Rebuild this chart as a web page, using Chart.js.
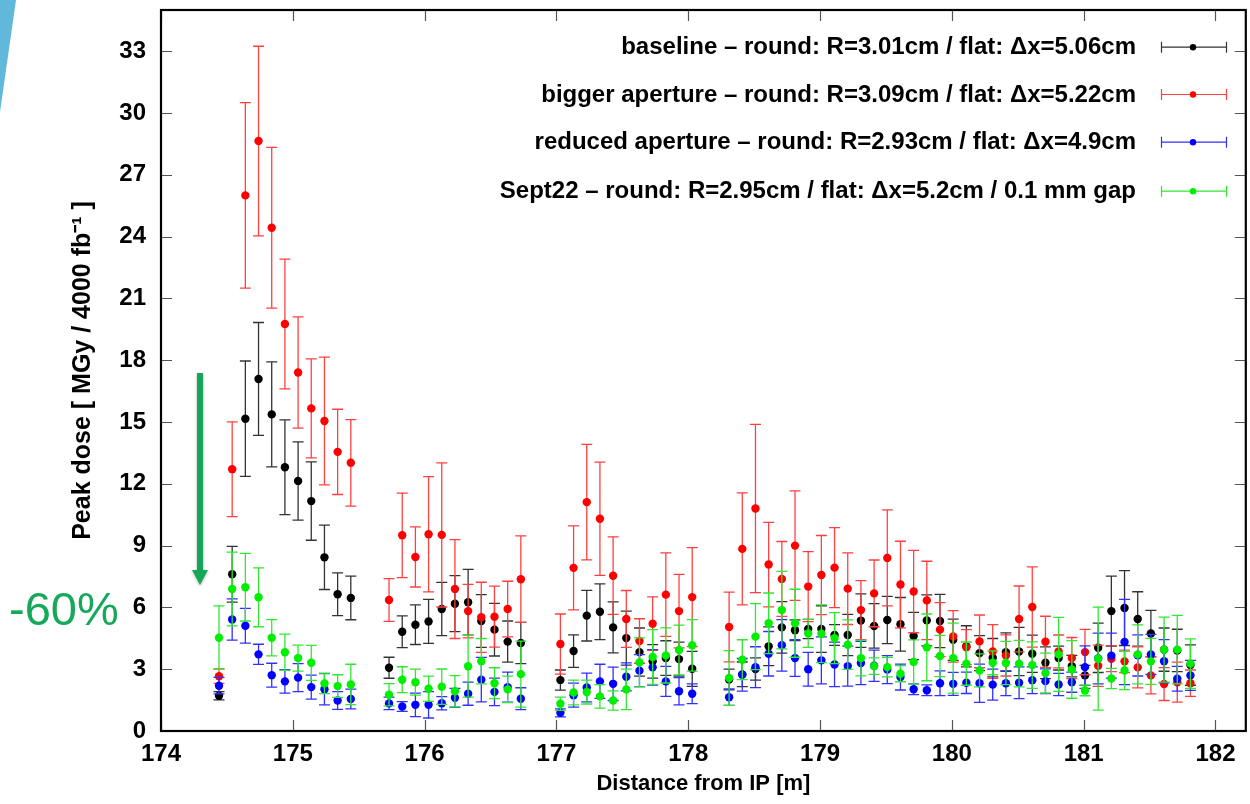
<!DOCTYPE html>
<html>
<head>
<meta charset="utf-8">
<script src="https://cdn.jsdelivr.net/npm/chart.js@4.4.0/dist/chart.umd.min.js"></script>
<style>
  html, body { margin: 0; padding: 0; background: #fff; }
  #wrap { position: relative; width: 1250px; height: 804px; overflow: hidden; }
  #chart { position: absolute; left: 0; top: 0; }
  #note { position: absolute; left: 9px; top: 581px; font: 47px "Liberation Sans", Arial, sans-serif; color: #16a85b; }
</style>
</head>
<body>
<div id="wrap">
  <canvas id="chart" width="1250" height="804"></canvas>
  <div id="note">-60%</div>
</div>
<script>
// tick labels
const xTicks = [174, 175, 176, 177, 178, 179, 180, 181, 182];
const yTicks = [0, 3, 6, 9, 12, 15, 18, 21, 24, 27, 30, 33];

// distance from IP [m] for every sample
const positions = [
    174.44, 174.54, 174.64, 174.74, 174.84, 174.94, 175.04, 175.14, 175.24, 175.34, 175.44,
    175.73, 175.83, 175.93, 176.03, 176.13, 176.23, 176.33, 176.43, 176.53, 176.63, 176.73,
    177.03, 177.13, 177.23, 177.33, 177.43, 177.53, 177.63, 177.73, 177.83, 177.93, 178.03,
    178.31, 178.41, 178.51, 178.61, 178.71, 178.81, 178.91, 179.01, 179.11, 179.21, 179.31, 179.41,
    179.51, 179.61, 179.71, 179.81, 179.91, 180.01, 180.11, 180.21, 180.31, 180.41, 180.51, 180.61,
    180.71, 180.81, 180.91, 181.01, 181.11, 181.21, 181.31, 181.41, 181.51, 181.61, 181.71, 181.81
];

const labels = [
    'baseline \u2013 round: R=3.01cm / flat: \u0394x=5.06cm',
    'bigger aperture \u2013 round: R=3.09cm / flat: \u0394x=5.22cm',
    'reduced aperture \u2013 round: R=2.93cm / flat: \u0394x=4.9cm',
    'Sept22 \u2013 round: R=2.95cm / flat: \u0394x=5.2cm / 0.1 mm gap'
];

const baseline = [
    1.71, 7.61, 15.16, 17.09, 15.37, 12.80, 12.14, 11.16, 8.43, 6.64, 6.46,
    3.07, 4.82, 5.16, 5.32, 5.92, 6.18, 6.25, 5.34, 4.92, 4.34, 4.27,
    2.47, 3.88, 5.60, 5.79, 5.03, 4.51, 3.83, 3.38, 3.54, 3.49, 3.02,
    2.50, 2.75, 3.01, 4.11, 5.03, 4.89, 4.95, 4.95, 4.66, 4.66, 5.36, 5.10,
    5.39, 5.18, 4.61, 5.37, 5.34, 4.43, 4.11, 3.78, 3.56, 3.83, 3.86, 3.75,
    3.31, 3.54, 3.15, 2.70, 4.04, 5.82, 5.97, 5.44, 4.73, 3.95, 3.91, 3.20
];
const baselineErr = [
    0.20, 1.35, 2.80, 2.74, 2.55, 2.30, 1.90, 1.90, 1.56, 1.04, 1.06,
    0.51, 0.77, 0.96, 1.07, 1.29, 1.36, 1.60, 1.28, 1.28, 1.00, 1.00,
    0.49, 0.79, 1.23, 1.35, 1.24, 1.31, 1.17, 0.81, 0.84, 0.82, 0.85,
    0.50, 0.60, 0.54, 0.94, 1.25, 0.50, 0.47, 1.13, 0.50, 1.00, 1.30, 1.08,
    1.15, 1.30, 1.15, 1.24, 1.29, 1.00, 1.00, 0.85, 0.93, 0.93, 1.17, 0.90,
    0.77, 0.58, 0.52, 0.49, 1.20, 1.70, 1.82, 1.32, 1.13, 1.05, 1.03, 0.98
];

const bigger = [
    2.66, 12.71, 26.00, 28.64, 24.43, 19.76, 17.40, 15.66, 15.05, 13.55, 13.02,
    6.36, 9.50, 8.45, 9.55, 9.52, 6.89, 5.82, 5.52, 5.55, 5.92, 7.37,
    4.22, 7.92, 11.11, 10.30, 7.54, 5.44, 4.37, 5.21, 6.62, 5.82, 6.50,
    5.05, 8.84, 10.80, 8.08, 7.38, 9.00, 7.01, 7.57, 7.93, 6.91, 5.87, 6.68,
    8.40, 7.11, 6.77, 6.34, 4.92, 4.59, 4.07, 4.35, 3.86, 3.67, 5.44, 6.02,
    4.33, 3.86, 3.54, 3.83, 3.17, 3.51, 3.38, 3.09, 2.70, 2.28, 2.37, 2.32
];
const biggerErr = [
    0.35, 2.30, 4.50, 4.60, 3.90, 3.15, 2.70, 2.40, 3.10, 2.07, 2.10,
    1.04, 2.05, 1.46, 2.80, 3.50, 2.40, 1.30, 1.70, 1.48, 1.35, 2.10,
    1.46, 2.04, 2.80, 2.75, 1.88, 1.38, 1.08, 1.30, 2.03, 1.78, 2.40,
    1.69, 2.72, 4.08, 2.05, 1.82, 2.66, 1.70, 1.92, 1.94, 1.74, 1.43, 1.62,
    2.33, 2.10, 2.00, 1.90, 1.31, 1.25, 0.85, 1.28, 1.30, 1.00, 1.60, 1.95,
    1.24, 0.80, 1.00, 1.10, 1.00, 0.63, 0.55, 1.00, 0.90, 0.80, 0.97, 0.64
];

const reduced = [
    2.20, 5.41, 5.11, 3.72, 2.71, 2.41, 2.59, 2.13, 2.03, 1.48, 1.55,
    1.34, 1.19, 1.27, 1.27, 1.35, 1.61, 1.81, 2.49, 1.90, 2.13, 1.57,
    0.88, 1.74, 2.11, 2.41, 2.29, 2.63, 2.93, 3.09, 2.41, 1.93, 1.81,
    1.64, 2.73, 3.10, 3.75, 4.16, 3.54, 3.00, 3.43, 3.23, 3.15, 3.30, 3.17,
    2.98, 2.62, 2.03, 1.98, 2.32, 2.29, 2.34, 2.32, 2.25, 2.32, 2.34, 2.46,
    2.42, 2.26, 2.37, 3.10, 3.52, 3.66, 4.32, 3.67, 3.72, 3.39, 2.54, 2.70
];
const reducedErr = [
    0.40, 1.00, 0.84, 0.49, 0.58, 0.57, 0.68, 0.58, 0.76, 0.43, 0.48,
    0.30, 0.24, 0.57, 0.64, 0.32, 0.46, 0.56, 1.08, 0.67, 0.73, 0.53,
    0.19, 0.58, 0.70, 0.83, 0.81, 0.68, 0.78, 0.86, 0.73, 0.66, 0.48,
    0.40, 0.79, 0.99, 1.08, 1.25, 0.89, 0.82, 1.14, 1.08, 0.97, 1.05, 0.76,
    0.68, 0.63, 0.26, 0.26, 0.60, 0.56, 0.52, 0.93, 0.75, 0.60, 0.77, 0.65,
    0.60, 0.54, 0.49, 1.03, 1.23, 1.09, 2.07, 1.00, 0.97, 1.05, 0.60, 0.73
];

const sept22 = [
    4.53, 6.89, 6.98, 6.49, 4.53, 3.82, 3.54, 3.31, 2.31, 2.18, 2.26,
    1.76, 2.49, 2.37, 2.05, 2.15, 1.93, 3.14, 3.39, 2.32, 2.02, 2.76,
    1.32, 1.87, 1.89, 1.68, 1.48, 2.02, 3.33, 3.59, 3.67, 3.93, 4.16,
    2.57, 3.46, 4.58, 5.23, 5.87, 5.23, 4.74, 4.72, 4.51, 4.19, 3.54, 3.15,
    3.10, 2.78, 3.35, 4.06, 3.64, 3.54, 3.27, 2.94, 3.31, 3.30, 3.27, 3.20,
    2.81, 3.72, 2.99, 1.97, 3.51, 2.55, 2.94, 3.72, 3.38, 3.95, 3.95, 3.27
];
const sept22Err = [
    1.54, 1.79, 1.64, 1.43, 0.88, 0.88, 0.63, 0.85, 0.50, 0.55, 0.98,
    0.54, 0.63, 0.63, 0.61, 0.86, 0.76, 1.50, 1.10, 0.75, 0.64, 1.60,
    0.32, 0.60, 0.58, 0.57, 0.47, 0.98, 1.19, 1.33, 1.34, 1.21, 1.25,
    1.33, 0.97, 1.60, 1.47, 1.88, 1.65, 0.68, 1.40, 1.24, 1.20, 0.86, 0.40,
    0.47, 0.39, 1.07, 1.62, 1.00, 1.70, 1.05, 0.80, 0.58, 1.05, 1.13, 1.13,
    0.97, 1.80, 1.40, 0.26, 2.50, 0.49, 0.93, 1.43, 1.12, 1.58, 1.66, 1.20
];

const FONT = "'Liberation Sans', Arial, Helvetica, sans-serif";

function series(label, values, errors, color, barColor, order) {
    return {
        label: label,
        data: positions.map((x, i) => ({ x: x, y: values[i] })),
        errors: errors,
        barColor: barColor,
        backgroundColor: color,
        borderColor: color,
        pointRadius: 4.2,
        pointBorderWidth: 0,
        showLine: false,
        order: order
    };
}

// error bars: drawn just before each dataset's points so layering follows the series
const errorBars = {
    id: 'errorBars',
    beforeDatasetDraw(chart, args) {
        const ds = chart.data.datasets[args.index];
        const { ctx, chartArea: a, scales: { x, y } } = chart;
        ctx.save();
        ctx.beginPath();
        ctx.rect(a.left, a.top, a.right - a.left, a.bottom - a.top);
        ctx.clip();
        ctx.strokeStyle = ds.barColor;
        ctx.lineWidth = 1.3;
        ctx.beginPath();
        ds.data.forEach((p, i) => {
            const e = ds.errors[i];
            const px = x.getPixelForValue(p.x);
            const top = y.getPixelForValue(p.y + e);
            const bot = y.getPixelForValue(p.y - e);
            ctx.moveTo(px, top); ctx.lineTo(px, bot);
            ctx.moveTo(px - 5.5, top); ctx.lineTo(px + 5.5, top);
            ctx.moveTo(px - 5.5, bot); ctx.lineTo(px + 5.5, bot);
        });
        ctx.stroke();
        ctx.restore();
    }
};

// gnuplot style frame, mirrored ticks, key, and slide decorations
const frame = {
    id: 'frame',
    afterDraw(chart) {
        const { ctx, chartArea: a, scales: { x, y } } = chart;
        ctx.save();

        ctx.strokeStyle = '#555';
        ctx.lineWidth = 1.2;
        ctx.beginPath();
        xTicks.forEach(v => {
            const px = Math.round(x.getPixelForValue(v)) + 0.5;
            ctx.moveTo(px, a.bottom); ctx.lineTo(px, a.bottom - 11);
            ctx.moveTo(px, a.top); ctx.lineTo(px, a.top + 11);
        });
        yTicks.forEach(v => {
            const py = Math.round(y.getPixelForValue(v)) + 0.5;
            ctx.moveTo(a.left, py); ctx.lineTo(a.left + 11, py);
            ctx.moveTo(a.right, py); ctx.lineTo(a.right - 11, py);
        });
        ctx.stroke();

        ctx.strokeStyle = '#000';
        ctx.lineWidth = 2.2;
        ctx.strokeRect(a.left, a.top, a.right - a.left, a.bottom - a.top);

        // key
        const rows = [46.7, 94, 141.7, 190.7];
        ctx.font = 'bold 24px ' + FONT;
        ctx.textAlign = 'right';
        ctx.textBaseline = 'middle';
        chart.data.datasets.forEach((ds, i) => {
            const ry = rows[i];
            ctx.fillStyle = '#000';
            ctx.fillText(ds.label, 1136, ry + 1);
            ctx.strokeStyle = ds.barColor;
            ctx.lineWidth = 1.2;
            ctx.beginPath();
            ctx.moveTo(1161, ry + 0.5); ctx.lineTo(1227, ry + 0.5);
            ctx.moveTo(1161.5, ry - 5); ctx.lineTo(1161.5, ry + 6);
            ctx.moveTo(1226.5, ry - 5); ctx.lineTo(1226.5, ry + 6);
            ctx.stroke();
            ctx.fillStyle = ds.backgroundColor;
            ctx.beginPath();
            ctx.arc(1193, ry + 0.5, 3.2, 0, Math.PI * 2);
            ctx.fill();
        });

        // blue slide corner
        ctx.fillStyle = '#60b9da';
        ctx.beginPath();
        ctx.moveTo(0, 0); ctx.lineTo(16, 0); ctx.lineTo(0, 112);
        ctx.closePath();
        ctx.fill();

        // green arrow
        ctx.shadowColor = 'rgba(0,0,0,0.3)';
        ctx.shadowBlur = 3;
        ctx.shadowOffsetY = 1;
        ctx.fillStyle = '#14a75a';
        ctx.fillRect(197, 373, 6, 199);
        ctx.beginPath();
        ctx.moveTo(192, 570); ctx.lineTo(208, 570); ctx.lineTo(200, 585);
        ctx.closePath();
        ctx.fill();

        ctx.restore();
    }
};

new Chart(document.getElementById('chart').getContext('2d'), {
    type: 'scatter',
    data: {
        datasets: [
            series(labels[0], baseline, baselineErr, '#000000', '#333333', 4),
            series(labels[1], bigger, biggerErr, '#ff0000', '#ff4040', 3),
            series(labels[2], reduced, reducedErr, '#0000ff', '#3030ff', 2),
            series(labels[3], sept22, sept22Err, '#00ee00', '#30e830', 1)
        ]
    },
    options: {
        responsive: false,
        animation: false,
        devicePixelRatio: 1,
        layout: { padding: { top: 10, right: 2, left: 0, bottom: 0 } },
        plugins: {
            legend: { display: false },
            tooltip: { enabled: false }
        },
        scales: {
            x: {
                type: 'linear',
                min: 174,
                max: 182.23,
                grid: { display: false, drawTicks: false },
                border: { display: false },
                afterBuildTicks: s => { s.ticks = xTicks.map(v => ({ value: v })); },
                afterFit: s => { s.height = 73; s.paddingLeft = 0; s.paddingRight = 0; },
                ticks: {
                    color: '#000',
                    padding: 9,
                    maxRotation: 0,
                    font: { family: FONT, weight: 'bold', size: 24 }
                },
                title: {
                    display: true,
                    text: 'Distance from IP [m]',
                    color: '#000',
                    padding: { top: 0, bottom: 7 },
                    font: { family: FONT, weight: 'bold', size: 22 }
                }
            },
            y: {
                min: 0,
                max: 35,
                grid: { display: false, drawTicks: false },
                border: { display: false },
                afterBuildTicks: s => { s.ticks = yTicks.map(v => ({ value: v })); },
                afterFit: s => { s.width = 161; s.paddingTop = 0; s.paddingBottom = 0; },
                ticks: {
                    color: '#000',
                    padding: 15,
                    font: { family: FONT, weight: 'bold', size: 24 }
                },
                title: {
                    display: true,
                    text: 'Peak dose [ MGy / 4000 fb\u207B\u00B9 ]',
                    color: '#000',
                    padding: { top: 68, bottom: 0 },
                    font: { family: FONT, weight: 'bold', size: 25 }
                }
            }
        }
    },
    plugins: [errorBars, frame]
});
</script>
</body>
</html>
